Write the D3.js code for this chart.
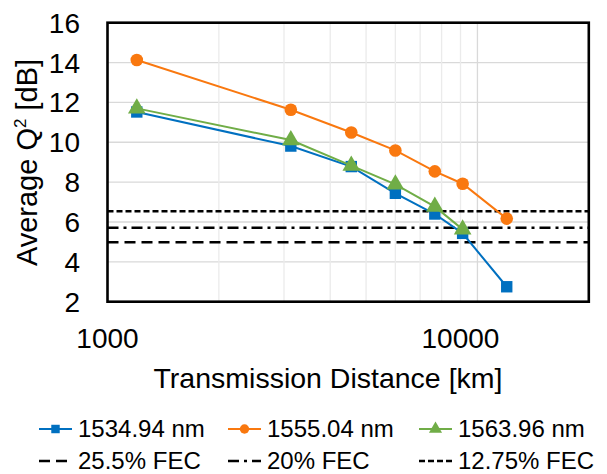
<!DOCTYPE html>
<html>
<head>
<meta charset="utf-8">
<script src="https://cdn.jsdelivr.net/npm/d3@7"></script>
<style>
  html, body { margin: 0; padding: 0; background: #fff; }
  svg { display: block; font-family: "Liberation Sans", Arial, sans-serif; }
</style>
</head>
<body>
<svg id="chart" width="607" height="474"></svg>
<script>
// ---- data ----
const distances = [1200, 3130, 4560, 6000, 7670, 9120, 12000];
const q1534 = [11.52, 9.81, 8.78, 7.44, 6.40, 5.43, 2.75];
const q1555 = [14.13, 11.63, 10.49, 9.59, 8.54, 7.92, 6.17];
const q1563 = [11.70, 10.11, 8.83, 7.89, 6.77, 5.63];
const seriesNames = ["1534.94 nm", "1555.04 nm", "1563.96 nm"];
const fecNames = ["25.5% FEC", "20% FEC", "12.75% FEC"];
const fecValues = [4.98, 5.71, 6.54];
const yTicks = [2, 4, 6, 8, 10, 12, 14, 16];
const xTickLabels = [1000, 10000];
const xMinorGrid = [2000, 3000, 4000, 5000, 6000, 7000, 8000, 9000];
const xMajorGrid = [10000];

// ---- layout / style ----
const L = 107.5, R = 588.8, T = 22.7, B = 301.7;
const colors = ["#0070C0", "#F9780F", "#70AD47"];
const symbols = [d3.symbolSquare, d3.symbolCircle, d3.symbolTriangle];
const symSize = [130, 125, 135];
const fecDash = ["11,6", "11,5,3,5", "6,3"];
const xLabelShift = [0, -17];

const svg = d3.select("#chart");
const x = d3.scaleLog().domain([1000, 20000]).range([L, R]);
const y = d3.scaleLinear().domain([2, 16]).range([B, T]);

// gridlines
const g = svg.append("g");
g.selectAll(".hg").data(yTicks.slice(1, -1)).join("line")
  .attr("x1", L).attr("x2", R).attr("y1", d => y(d)).attr("y2", d => y(d))
  .attr("stroke", "#d9d9d9").attr("stroke-width", 1.3);
g.selectAll(".vmin").data(xMinorGrid).join("line")
  .attr("x1", d => x(d)).attr("x2", d => x(d)).attr("y1", T).attr("y2", B)
  .attr("stroke", "#ebebeb").attr("stroke-width", 1.3);
g.selectAll(".vmaj").data(xMajorGrid).join("line")
  .attr("x1", d => x(d)).attr("x2", d => x(d)).attr("y1", T).attr("y2", B)
  .attr("stroke", "#d9d9d9").attr("stroke-width", 1.3);

// FEC lines
svg.selectAll(".fec").data(fecValues).join("line")
  .attr("x1", L).attr("x2", R).attr("y1", d => y(d)).attr("y2", d => y(d))
  .attr("stroke", "#000").attr("stroke-width", 2.4)
  .attr("stroke-dasharray", (d, i) => fecDash[i]);

// series
const series = [q1534, q1555, q1563];
const line = d3.line().x(d => x(d[0])).y(d => y(d[1]));
series.forEach((vals, i) => {
  const pts = vals.map((v, j) => [distances[j], v]);
  svg.append("path").datum(pts).attr("d", line)
    .attr("fill", "none").attr("stroke", colors[i]).attr("stroke-width", 2);
  svg.selectAll(".m" + i).data(pts).join("path")
    .attr("transform", d => `translate(${x(d[0])},${y(d[1])})`)
    .attr("d", d3.symbol().type(symbols[i]).size(symSize[i]))
    .attr("fill", colors[i]);
});

// plot border
svg.append("rect").attr("x", L).attr("y", T).attr("width", R - L).attr("height", B - T)
  .attr("fill", "none").attr("stroke", "#000").attr("stroke-width", 2.6);

// y tick labels
svg.selectAll(".yt").data(yTicks).join("text")
  .attr("x", 80).attr("y", d => y(d) + 10)
  .attr("text-anchor", "end").attr("font-size", 28).attr("fill", "#000")
  .text(d => d);

// x tick labels
svg.selectAll(".xt").data(xTickLabels).join("text")
  .attr("x", (d, i) => x(d) + xLabelShift[i]).attr("y", 348)
  .attr("text-anchor", "middle").attr("font-size", 28).attr("fill", "#000")
  .text(d => d);

// axis titles
svg.append("text").attr("x", 328).attr("y", 388)
  .attr("text-anchor", "middle").attr("font-size", 28.5).attr("fill", "#000")
  .text("Transmission Distance [km]");

const yt = svg.append("text")
  .attr("transform", "translate(37,162.5) rotate(-90)")
  .attr("text-anchor", "middle").attr("font-size", 29).attr("fill", "#000");
yt.append("tspan").text("Average Q");
yt.append("tspan").attr("font-size", 17).attr("dy", -11).text("2");
yt.append("tspan").attr("dy", 11).text(" [dB]");

// legend
const legX = [39, 228, 419];
const symLen = 33;
const leg = svg.append("g").attr("font-size", 24).attr("fill", "#000");
seriesNames.forEach((name, i) => {
  const x0 = legX[i], yy = 429;
  leg.append("line").attr("x1", x0).attr("x2", x0 + symLen).attr("y1", yy).attr("y2", yy)
    .attr("stroke", colors[i]).attr("stroke-width", 2);
  leg.append("path").attr("transform", `translate(${x0 + symLen / 2},${yy})`)
    .attr("d", d3.symbol().type(symbols[i]).size(symSize[i] * 0.55))
    .attr("fill", colors[i]);
  leg.append("text").attr("x", x0 + symLen + 6).attr("y", 437).text(name);
});
fecNames.forEach((name, i) => {
  const x0 = legX[i], yy = 461;
  leg.append("line").attr("x1", x0).attr("x2", x0 + symLen).attr("y1", yy).attr("y2", yy)
    .attr("stroke", "#000").attr("stroke-width", 2.4)
    .attr("stroke-dasharray", fecDash[i]);
  leg.append("text").attr("x", x0 + symLen + 6).attr("y", 469).text(name);
});
</script>
</body>
</html>
